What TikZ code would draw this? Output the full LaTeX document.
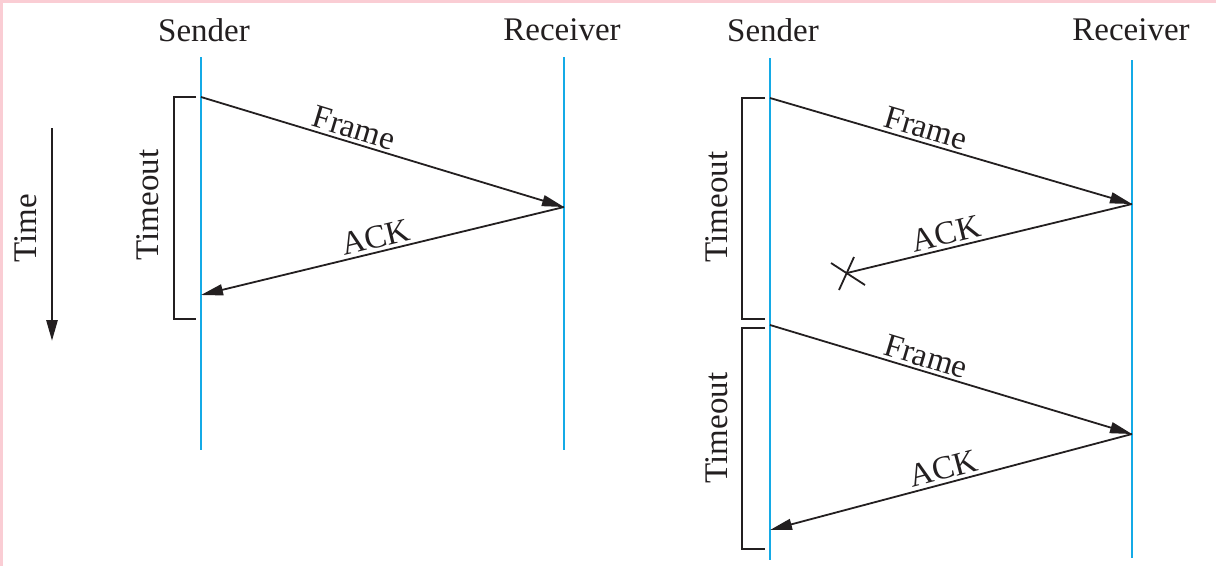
\documentclass[tikz,border=0pt]{standalone}
\usepackage{fontspec}
\setmainfont{Liberation Serif}
\usetikzlibrary{arrows.meta}
\definecolor{lifeblue}{RGB}{20,170,230}
\definecolor{edgepink}{RGB}{250,205,212}
\definecolor{ink}{RGB}{35,31,32}
\begin{document}
\begin{tikzpicture}[x=1pt,y=-1pt,
  lbl/.style={font=\fontsize{33}{38}\selectfont, text=ink, inner sep=3pt},
  life/.style={draw=lifeblue, line width=2.8pt},
  msg/.style={draw=ink, line width=1.8pt, -{Triangle[length=22pt,width=11pt]}},
  plainmsg/.style={draw=ink, line width=1.8pt},
  bracketline/.style={draw=ink, line width=2.8pt},
  timearrow/.style={draw=ink, line width=2.8pt, -{Triangle[length=21pt,width=11pt]}}]
\useasboundingbox (0,0) rectangle (1216,566);
\fill[white] (0,0) rectangle (1216,566);
% thin tinted page edge
\fill[edgepink] (0,0) rectangle (1216,3);
\fill[edgepink] (0,0) rectangle (2.5,566);

% time axis
\coordinate (t0) at (52,128);
\coordinate (t1) at (52,341);
\draw[timearrow] (t0) -- (t1);
\node[lbl, rotate=90] (time) at (26,228) {Time};

% ---------- first exchange ----------
\node[lbl] (sendA) at (204,30) {Sender};
\node[lbl] (recvA) at (562,30) {Receiver};
\coordinate (sA0) at (201,57);   \coordinate (sA1) at (201,450);
\coordinate (rA0) at (564,57);   \coordinate (rA1) at (564,450);
\draw[life] (sA0) -- (sA1);
\draw[life] (rA0) -- (rA1);

\coordinate (fA) at (201,97);
\coordinate (gA) at (564,207);
\coordinate (aA) at (201,295);
\draw[msg] (fA) -- node[lbl, pos=0.41, sloped, above] (frameA) {Frame} (gA);
\draw[msg] (gA) -- node[lbl, pos=0.51, sloped, above] (ackA) {ACK} (aA);

\coordinate (bA0) at (196,97);
\coordinate (bA1) at (196,319);
\draw[bracketline] (bA0) -| (174,319) -- (bA1);
\node[lbl, rotate=90] (toA) at (148,205) {Timeout};

% ---------- second exchange, first ACK lost ----------
\node[lbl] (sendB) at (773,30) {Sender};
\node[lbl] (recvB) at (1131,30) {Receiver};
\coordinate (sB0) at (770,58);   \coordinate (sB1) at (770,560);
\coordinate (rB0) at (1132,60);  \coordinate (rB1) at (1132,558);
\draw[life] (sB0) -- (sB1);
\draw[life] (rB0) -- (rB1);

\coordinate (fB) at (770,98);
\coordinate (gB) at (1132,204);
\coordinate (lost) at (847,273);
\draw[msg] (fB) -- node[lbl, pos=0.42, sloped, above] (frameB) {Frame} (gB);
\draw[plainmsg] (gB) -- node[lbl, pos=0.64, sloped, above] (ackB) {ACK} (lost);
% cross marking the lost acknowledgement
\coordinate (x1) at (831,263); \coordinate (x2) at (865,285);
\coordinate (x3) at (854,257); \coordinate (x4) at (839,290);
\draw[plainmsg] (x1) -- (x2);
\draw[plainmsg] (x3) -- (x4);

\coordinate (bB0) at (765,98);
\coordinate (bB1) at (765,319);
\draw[bracketline] (bB0) -| (742,319) -- (bB1);
\node[lbl, rotate=90] (toB) at (717,207) {Timeout};

% retransmission
\coordinate (fC) at (770,325);
\coordinate (gC) at (1132,434);
\coordinate (aC) at (770,530);
\draw[msg] (fC) -- node[lbl, pos=0.42, sloped, above] (frameC) {Frame} (gC);
\draw[msg] (gC) -- node[lbl, pos=0.51, sloped, above] (ackC) {ACK} (aC);

\coordinate (bC0) at (765,328);
\coordinate (bC1) at (765,549);
\draw[bracketline] (bC0) -| (742,549) -- (bC1);
\node[lbl, rotate=90] (toC) at (717,428) {Timeout};
\end{tikzpicture}
\end{document}
